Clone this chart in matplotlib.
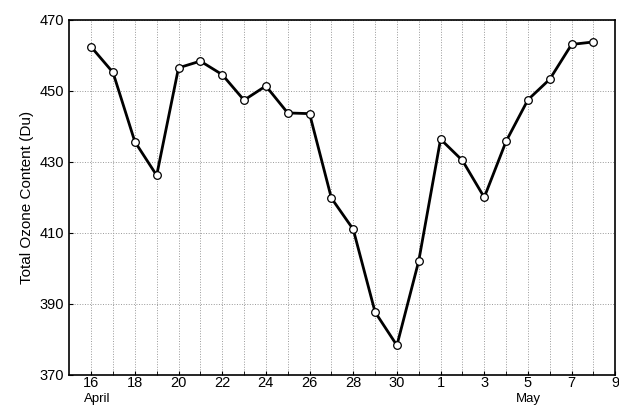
import matplotlib
matplotlib.use("Agg")
import matplotlib.pyplot as plt

days = ["16","17","18","19","20","21","22","23","24","25","26","27","28","29","30",
        "","1","2","3","4","5","6","7","8"]
ozone = [462.4,455.2,435.7,426.2,456.5,458.4,454.6,447.4,451.4,443.8,443.6,419.8,
         411.0,387.7,378.3,402.1,436.4,430.4,420.0,435.8,447.5,453.3,463.1,463.8]
tick_labels = ["16","18","20","22","24","26","28","30","1","3","5","7","9"]
yticks = [370,390,410,430,450,470]

plt.rcParams['font.family'] = ['Liberation Sans', 'DejaVu Sans']
fig = plt.figure(figsize=(6.19,4.07), dpi=100)
ax = fig.add_axes([0.112,0.079,0.882,0.872])
x = list(range(len(ozone)))
ax.plot(x, ozone, color='black', lw=2, marker='o', ms=5.5, mfc='white', mec='black', mew=0.9, zorder=3)
tick_pos = list(range(0, 2*len(tick_labels), 2))
ax.set_xticks(tick_pos)
ax.set_xticklabels(tick_labels, fontsize=10.5)
ax.set_xticks(x, minor=True)
ax.set_xlim(-1, 24)
ax.set_ylim(370, 470)
ax.set_yticks(yticks)
ax.tick_params(axis='y', labelsize=10.5, direction='in', length=3)
ax.tick_params(axis='x', which='both', direction='in', length=3, pad=1)
ax.grid(True, which='both', axis='x', ls=':', color='#999999', lw=0.7)
ax.grid(True, which='major', axis='y', ls=':', color='#999999', lw=0.7)
for s in ax.spines.values():
    s.set_linewidth(1.2)
ax.set_ylabel("Total Ozone Content (Du)", fontsize=11)
ax.text(0.3, -0.052, "April", transform=ax.get_xaxis_transform(), ha='center', va='top', fontsize=9.5)
ax.text(20, -0.052, "May", transform=ax.get_xaxis_transform(), ha='center', va='top', fontsize=9.5)
fig.savefig("out.png", dpi=100)
